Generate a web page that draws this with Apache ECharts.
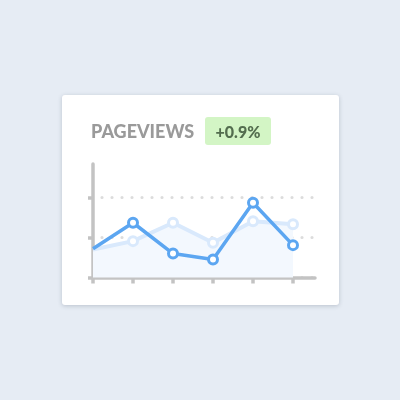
<!DOCTYPE html>
<html>
<head>
<meta charset="utf-8">
<script src="https://cdn.jsdelivr.net/npm/echarts@6/dist/echarts.min.js"></script>
<style>
html,body{margin:0;padding:0;background:#e6ecf4;}
#c{width:400px;height:400px;}
</style>
</head>
<body>
<div id="c"></div>
<script>
var categories = ['1', '2', '3', '4', '5', '6'];
var currentValues = [7.2, 13.7, 6.0, 4.5, 18.7, 8.1];
var previousValues = [7.0, 9.1, 13.7, 8.7, 14.1, 13.3];
var yTicks = [0, 10, 20];
var gridValues = [10, 20];
var titleText = 'PAGEVIEWS';
var badgeText = '+0.9%';

function toPoints(vals) {
  return vals.map(function (v, i) {
    var item = { value: [i, v] };
    if (i === 0) item.symbol = 'none';
    return item;
  });
}

var chart = echarts.init(document.getElementById('c'));
var axisColor = '#c3c3c3';
chart.setOption({
  backgroundColor: '#e6ecf4',
  animation: false,
  graphic: [
    { type: 'rect', z: -10, shape: { x: 62, y: 95, width: 277, height: 210, r: 3 },
      style: { fill: '#ffffff', shadowBlur: 4, shadowOffsetY: 1, shadowColor: 'rgba(60,70,90,0.25)' } },
    { type: 'text', z: 5, style: { x: 91, y: 132, text: titleText, fill: '#9a9a9a',
      font: '900 18px Lato', textVerticalAlign: 'middle', textAlign: 'left' } },
    { type: 'rect', z: 5, shape: { x: 205, y: 117, width: 66, height: 28, r: 3 },
      style: { fill: '#d3f5c5' } },
    { type: 'text', z: 6, style: { x: 238, y: 133, text: badgeText, fill: '#536d4e',
      font: '900 16px Lato', textVerticalAlign: 'middle', textAlign: 'center' } }
  ],
  grid: { left: 93, right: 85, top: 164, bottom: 122.5, containLabel: false },
  xAxis: {
    type: 'value', min: 0, max: 5.55, interval: 1,
    axisLine: { show: true, lineStyle: { color: axisColor, width: 3.5 } },
    axisTick: { show: true, length: 6, customValues: categories.map(function (c, i) { return i; }),
      lineStyle: { color: axisColor, width: 3.5 } },
    axisLabel: { show: false },
    splitLine: { show: false }
  },
  yAxis: {
    type: 'value', min: 0, max: 28.4, interval: 10,
    axisLine: { show: true, lineStyle: { color: axisColor, width: 3.5 } },
    axisTick: { show: true, length: 5, customValues: yTicks, lineStyle: { color: axisColor, width: 3.5 } },
    axisLabel: { show: false },
    splitLine: { show: true, customValues: gridValues,
      lineStyle: { color: '#dcdcdc', width: 3.2, type: [0, 10], dashOffset: 1, cap: 'round' } }
  },
  series: [
    { type: 'line', data: toPoints(previousValues), z: 3,
      symbol: 'circle', symbolSize: 9,
      lineStyle: { color: '#d9e9fc', width: 4 },
      itemStyle: { color: '#ffffff', borderColor: '#d9e9fc', borderWidth: 3 },
      areaStyle: { color: '#f3f8fe', opacity: 1 } },
    { type: 'line', data: toPoints(currentValues), z: 4,
      symbol: 'circle', symbolSize: 9,
      lineStyle: { color: '#5ca6f1', width: 3.5 },
      itemStyle: { color: '#ffffff', borderColor: '#5ca6f1', borderWidth: 3 } }
  ]
});
</script>
</body>
</html>
